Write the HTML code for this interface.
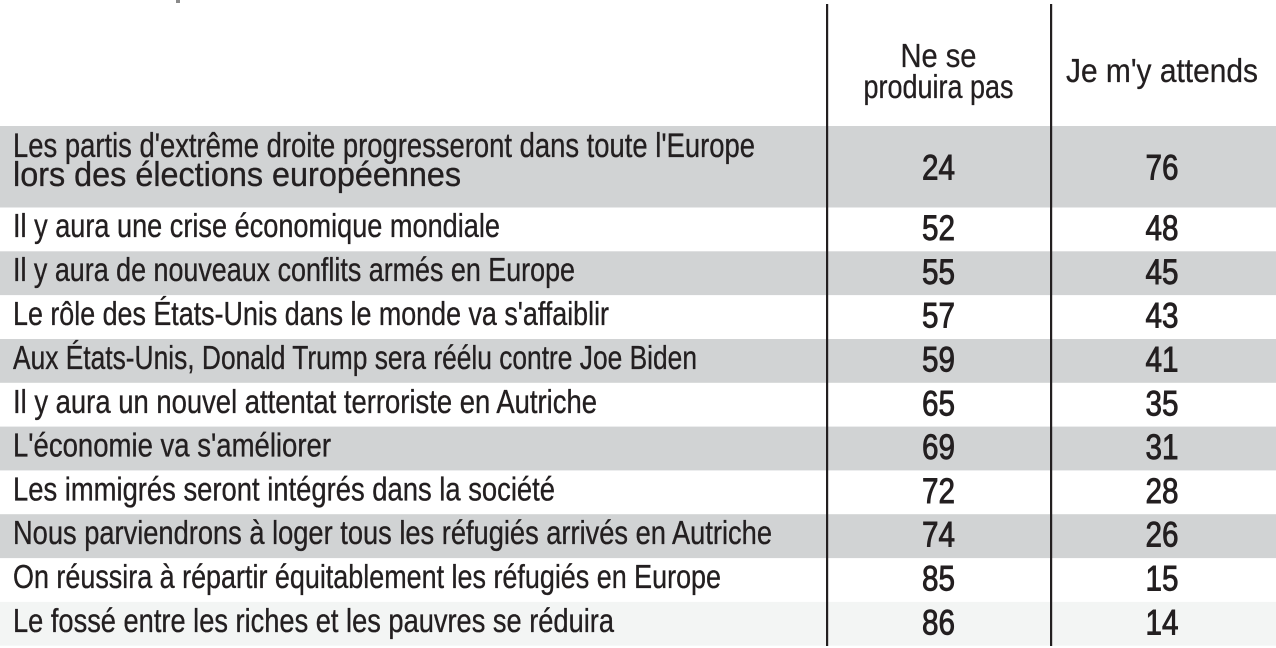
<!DOCTYPE html>
<html>
<head>
<meta charset="utf-8">
<style>
  html,body{margin:0;padding:0;background:#ffffff;}
  svg{display:block;}
  text{font-family:"Liberation Sans",Arial,sans-serif;fill:#231f20;}
  .t{font-size:33px;stroke:#231f20;stroke-width:0.35;}
  .t1{font-size:34px;stroke:#231f20;stroke-width:0.35;}
  .h{font-size:33px;stroke:#231f20;stroke-width:0.3;}
  .n{font-size:35px;stroke:#231f20;stroke-width:0.9;}
</style>
</head>
<body>
<svg width="1276" height="648" viewBox="0 0 1276 648" xmlns="http://www.w3.org/2000/svg">
  <rect x="0" y="0" width="1276" height="648" fill="#ffffff"/>
  <rect x="176" y="0" width="4" height="3" fill="#8a8a8a"/>

  <!-- row backgrounds -->
  <rect x="0" y="126" width="1276" height="81.5" fill="#d1d3d4"/>
  <rect x="0" y="251.3" width="1276" height="43.8" fill="#d1d3d4"/>
  <rect x="0" y="339.0" width="1276" height="43.8" fill="#d1d3d4"/>
  <rect x="0" y="426.6" width="1276" height="43.8" fill="#d1d3d4"/>
  <rect x="0" y="514.2" width="1276" height="43.9" fill="#d1d3d4"/>
  <rect x="0" y="601.9" width="1276" height="43.8" fill="#f3f5f4"/>

  <!-- vertical rules -->
  <rect x="826" y="4" width="2.2" height="642" fill="#231f20"/>
  <rect x="1050" y="4" width="2.2" height="642" fill="#231f20"/>

  <!-- header -->
  <text class="h" x="938.5" y="67" text-anchor="middle" textLength="76" lengthAdjust="spacingAndGlyphs">Ne se</text>
  <text class="h" x="938.5" y="98" text-anchor="middle" textLength="150" lengthAdjust="spacingAndGlyphs">produira pas</text>
  <text class="h" x="1162" y="82" text-anchor="middle" textLength="192" lengthAdjust="spacingAndGlyphs">Je m'y attends</text>

  <!-- row 1 -->
  <text class="t1" x="13" y="157" textLength="742" lengthAdjust="spacingAndGlyphs">Les partis d'extrême droite progresseront dans toute l'Europe</text>
  <text class="t1" x="13" y="186" textLength="448" lengthAdjust="spacingAndGlyphs">lors des élections européennes</text>
  <text class="n" x="938.5" y="179.5" text-anchor="middle" textLength="33" lengthAdjust="spacingAndGlyphs">24</text>
  <text class="n" x="1162" y="179.5" text-anchor="middle" textLength="33" lengthAdjust="spacingAndGlyphs">76</text>

  <!-- rows 2-11 -->
  <text class="t" x="13" y="237" textLength="487" lengthAdjust="spacingAndGlyphs">Il y aura une crise économique mondiale</text>
  <text class="n" x="938.5" y="240" text-anchor="middle" textLength="33" lengthAdjust="spacingAndGlyphs">52</text>
  <text class="n" x="1162" y="240" text-anchor="middle" textLength="33" lengthAdjust="spacingAndGlyphs">48</text>

  <text class="t" x="13" y="281" textLength="562" lengthAdjust="spacingAndGlyphs">Il y aura de nouveaux conflits armés en Europe</text>
  <text class="n" x="938.5" y="283.8" text-anchor="middle" textLength="33" lengthAdjust="spacingAndGlyphs">55</text>
  <text class="n" x="1162" y="283.8" text-anchor="middle" textLength="33" lengthAdjust="spacingAndGlyphs">45</text>

  <text class="t" x="13" y="325" textLength="596" lengthAdjust="spacingAndGlyphs">Le rôle des États-Unis dans le monde va s'affaiblir</text>
  <text class="n" x="938.5" y="327.6" text-anchor="middle" textLength="33" lengthAdjust="spacingAndGlyphs">57</text>
  <text class="n" x="1162" y="327.6" text-anchor="middle" textLength="33" lengthAdjust="spacingAndGlyphs">43</text>

  <text class="t" x="13" y="369" textLength="684" lengthAdjust="spacingAndGlyphs">Aux États-Unis, Donald Trump sera réélu contre Joe Biden</text>
  <text class="n" x="938.5" y="371.5" text-anchor="middle" textLength="33" lengthAdjust="spacingAndGlyphs">59</text>
  <text class="n" x="1162" y="371.5" text-anchor="middle" textLength="33" lengthAdjust="spacingAndGlyphs">41</text>

  <text class="t" x="13" y="412.8" textLength="584" lengthAdjust="spacingAndGlyphs">Il y aura un nouvel attentat terroriste en Autriche</text>
  <text class="n" x="938.5" y="415.3" text-anchor="middle" textLength="33" lengthAdjust="spacingAndGlyphs">65</text>
  <text class="n" x="1162" y="415.3" text-anchor="middle" textLength="33" lengthAdjust="spacingAndGlyphs">35</text>

  <text class="t" x="13" y="456.6" textLength="318" lengthAdjust="spacingAndGlyphs">L'économie va s'améliorer</text>
  <text class="n" x="938.5" y="459.1" text-anchor="middle" textLength="33" lengthAdjust="spacingAndGlyphs">69</text>
  <text class="n" x="1162" y="459.1" text-anchor="middle" textLength="33" lengthAdjust="spacingAndGlyphs">31</text>

  <text class="t" x="13" y="500.4" textLength="542" lengthAdjust="spacingAndGlyphs">Les immigrés seront intégrés dans la société</text>
  <text class="n" x="938.5" y="502.9" text-anchor="middle" textLength="33" lengthAdjust="spacingAndGlyphs">72</text>
  <text class="n" x="1162" y="502.9" text-anchor="middle" textLength="33" lengthAdjust="spacingAndGlyphs">28</text>

  <text class="t" x="13" y="544.2" textLength="759" lengthAdjust="spacingAndGlyphs">Nous parviendrons à loger tous les réfugiés arrivés en Autriche</text>
  <text class="n" x="938.5" y="546.7" text-anchor="middle" textLength="33" lengthAdjust="spacingAndGlyphs">74</text>
  <text class="n" x="1162" y="546.7" text-anchor="middle" textLength="33" lengthAdjust="spacingAndGlyphs">26</text>

  <text class="t" x="13" y="588.1" textLength="708" lengthAdjust="spacingAndGlyphs">On réussira à répartir équitablement les réfugiés en Europe</text>
  <text class="n" x="938.5" y="590.6" text-anchor="middle" textLength="33" lengthAdjust="spacingAndGlyphs">85</text>
  <text class="n" x="1162" y="590.6" text-anchor="middle" textLength="33" lengthAdjust="spacingAndGlyphs">15</text>

  <text class="t" x="13" y="631.9" textLength="601" lengthAdjust="spacingAndGlyphs">Le fossé entre les riches et les pauvres se réduira</text>
  <text class="n" x="938.5" y="634.4" text-anchor="middle" textLength="33" lengthAdjust="spacingAndGlyphs">86</text>
  <text class="n" x="1162" y="634.4" text-anchor="middle" textLength="33" lengthAdjust="spacingAndGlyphs">14</text>
</svg>
</body>
</html>
